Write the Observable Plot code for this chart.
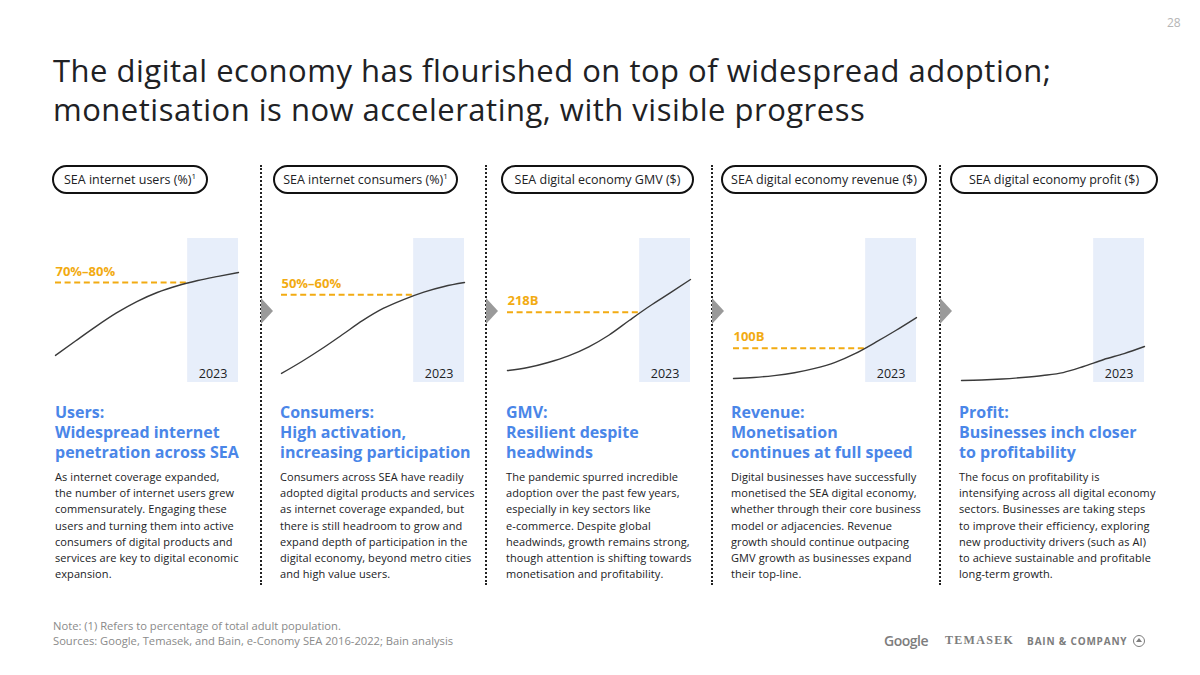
<!DOCTYPE html>
<html>
<head>
<meta charset="utf-8">
<script src="https://cdn.jsdelivr.net/npm/d3@7"></script>
<script src="https://cdn.jsdelivr.net/npm/@observablehq/plot@0.6"></script>
<style>
  html, body { margin:0; padding:0; background:#fff; }
  body { width:1200px; height:675px; position:relative; overflow:hidden; font-family: "Open Sans", Roboto, sans-serif; color:#202124; }
  .abs { position:absolute; }
  .title { left:53px; top:51px; font-size:31px; line-height:39px; color:#202124; white-space:nowrap; letter-spacing:0.5px; }
  .pill { position:absolute; top:165px; height:25px; border:2px solid #111; border-radius:15px; font-size:12.5px; line-height:25px; text-align:center; white-space:nowrap; color:#202124; }
  .pill sup { font-size:8px; vertical-align: 5px; line-height:0; }
  .divider { position:absolute; top:165px; height:420px; width:0; border-left:2.5px dotted #222; }
  .arrow { position:absolute; width:0; height:0; border-top:13px solid transparent; border-bottom:13px solid transparent; border-left:12px solid #9a9a9a; }
  .head { position:absolute; top:402px; font-size:16px; line-height:20px; font-weight:700; color:#4a86e8; white-space:nowrap; }
  .body { position:absolute; top:469px; font-size:11px; line-height:16.2px; letter-spacing:0.08px; color:#202124; white-space:nowrap; }
  .foot { position:absolute; left:53px; top:619px; font-size:11.2px; line-height:14.5px; color:#8a8a8a; white-space:nowrap; }
  .chart { position:absolute; top:238px; }
  .logos { position:absolute; left:884px; top:631px; display:flex; align-items:center; color:#7d7d7d; white-space:nowrap; }
</style>
</head>
<body>
<div class="abs" style="left:1167px; top:14px; font-size:12px; color:#b5b5b5;">28</div>
<div class="abs title">The digital economy has flourished on top of widespread adoption;<br>monetisation is now accelerating, with visible progress</div>
<div id="root"></div>
<div class="foot">Note: (1) Refers to percentage of total adult population.<br>Sources: Google, Temasek, and Bain, e-Conomy SEA 2016-2022; Bain analysis</div>
<div class="logos">
  <span style="font-size:14px; font-weight:600; letter-spacing:-0.5px;">Google</span>
  <span style="margin-left:17px; font-size:12px; font-family:'Liberation Serif',serif; font-weight:700; letter-spacing:1.3px;">TEMASEK</span>
  <span style="margin-left:13px; font-size:10px; font-weight:700; letter-spacing:0.8px;">BAIN &amp; COMPANY</span>
  <span style="margin-left:6px; width:10px; height:10px; border:1.5px solid #7d7d7d; border-radius:50%; display:inline-block; position:relative;">
    <span style="position:absolute; left:2px; top:2.5px; width:0; height:0; border-left:3px solid transparent; border-right:3px solid transparent; border-bottom:4px solid #7d7d7d;"></span>
  </span>
</div>
<script>
// ---- data (index 0–100 = bottom to top of each mini chart) ----
const panelKeys = ["users", "consumers", "gmv", "revenue", "profit"];
const pillLabels = ["SEA internet users (%)", "SEA internet consumers (%)", "SEA digital economy GMV ($)", "SEA digital economy revenue ($)", "SEA digital economy profit ($)"];
const pillNotes = ["1", "1", "", "", ""];
const years = [2016, 2017, 2018, 2019, 2020, 2021, 2022, 2023, 2024, 2025];
const usersValues     = [18.8, 29.0, 39.0, 48.3, 56.2, 62.5, 67.2, 70.8, 73.7, 76.4];
const consumersValues = [6.3, 14.6, 23.6, 33.3, 43.1, 51.4, 57.6, 62.8, 66.7, 69.4];
const gmvValues       = [8.3, 10.4, 13.9, 18.5, 24.8, 33.0, 43.2, 53.1, 62.2, 71.5];
const revenueValues   = [2.8, 3.5, 4.8, 6.8, 9.8, 14.0, 20.2, 28.0, 36.3, 45.1];
const profitValues    = [1.4, 1.7, 2.4, 3.5, 4.9, 6.9, 11.1, 16.0, 20.1, 25.0];
const refLevels = [69.4, 60.9, 48.8, 23.8, null];
const refLabels = ["70%–80%", "50%–60%", "218B", "100B", null];
const highlightLabel = "2023";
const highlightStart = 2022.5;
const highlightEnd = 2025;
const headings = [
  ["Users:", "Widespread internet", "penetration across SEA"],
  ["Consumers:", "High activation,", "increasing participation"],
  ["GMV:", "Resilient despite", "headwinds"],
  ["Revenue:", "Monetisation", "continues at full speed"],
  ["Profit:", "Businesses inch closer", "to profitability"]
];
const bodies = [
  ["As internet coverage expanded,", "the number of internet users grew", "commensurately. Engaging these", "users and turning them into active", "consumers of digital products and", "services are key to digital economic", "expansion."],
  ["Consumers across SEA have readily", "adopted digital products and services", "as internet coverage expanded, but", "there is still headroom to grow and", "expand depth of participation in the", "digital economy, beyond metro cities", "and high value users."],
  ["The pandemic spurred incredible", "adoption over the past few years,", "especially in key sectors like", "e-commerce. Despite global", "headwinds, growth remains strong,", "though attention is shifting towards", "monetisation and profitability."],
  ["Digital businesses have successfully", "monetised the SEA digital economy,", "whether through their core business", "model or adjacencies. Revenue", "growth should continue outpacing", "GMV growth as businesses expand", "their top-line."],
  ["The focus on profitability is", "intensifying across all digital economy", "sectors. Businesses are taking steps", "to improve their efficiency, exploring", "new productivity drivers (such as AI)", "to achieve sustainable and profitable", "long-term growth."]
];
const seriesValues = [usersValues, consumersValues, gmvValues, revenueValues, profitValues];

// ---- layout ----
const chartLefts = [55, 281, 507, 733, 961];
const chartWidth = 183, chartHeight = 144;
const textLefts = [55, 280, 506, 731, 959];
const pillLefts = [52, 273, 501, 721, 950];
const pillWidths = [152, 181, 189, 202, 204];
const dividerXs = [261, 486, 712, 940];
const root = document.getElementById("root");

dividerXs.forEach(x => {
  const d = document.createElement("div"); d.className = "divider"; d.style.left = (x - 1) + "px"; root.appendChild(d);
  const a = document.createElement("div"); a.className = "arrow"; a.style.left = x + "px"; a.style.top = "298px"; root.appendChild(a);
});

panelKeys.forEach((key, i) => {
  const pill = document.createElement("div");
  pill.className = "pill"; pill.style.left = pillLefts[i] + "px"; pill.style.width = pillWidths[i] + "px";
  pill.innerHTML = pillLabels[i] + (pillNotes[i] ? "<sup>" + pillNotes[i] + "</sup>" : "");
  root.appendChild(pill);

  const h = document.createElement("div"); h.className = "head"; h.style.left = textLefts[i] + "px";
  h.innerHTML = headings[i].join("<br>"); root.appendChild(h);
  const b = document.createElement("div"); b.className = "body"; b.style.left = textLefts[i] + "px";
  b.innerHTML = bodies[i].join("<br>"); root.appendChild(b);

  const data = years.map((y, j) => ({year: y, value: seriesValues[i][j]}));
  const marks = [
    Plot.rect([{x1: highlightStart, x2: highlightEnd, y1: 0, y2: 100}], {x1: "x1", x2: "x2", y1: "y1", y2: "y2", fill: "#e7eefa"}),
  ];
  if (refLevels[i] != null) {
    marks.push(Plot.ruleY([{v: refLevels[i]}], {y: "v", x1: years[0], x2: highlightStart, stroke: "#f2ab12", strokeWidth: 2, strokeDasharray: "6,3.6"}));
    marks.push(Plot.text([{v: refLevels[i], t: refLabels[i]}], {x: years[0], y: "v", text: "t", dy: -11, textAnchor: "start", fill: "#f2ab12", fontWeight: 700, fontSize: 13, style: "letter-spacing:0.4px"}));
  }
  marks.push(Plot.line(data, {x: "year", y: "value", stroke: "#3a3a3a", strokeWidth: 1.4, curve: "monotone-x"}));
  marks.push(Plot.text([{x: (highlightStart + highlightEnd) / 2, t: highlightLabel}], {x: "x", y: 0, text: "t", dy: -9, fill: "#202124", fontSize: 12.5}));

  const svg = Plot.plot({
    width: chartWidth, height: chartHeight,
    marginTop: 0, marginBottom: 0, marginLeft: 0, marginRight: 0,
    x: {domain: [years[0], years[years.length - 1]], axis: null},
    y: {domain: [0, 100], axis: null},
    style: {overflow: "visible", background: "transparent", fontFamily: "'Open Sans', sans-serif"},
    marks
  });
  const wrap = document.createElement("div"); wrap.className = "chart"; wrap.style.left = chartLefts[i] + "px";
  wrap.appendChild(svg); root.appendChild(wrap);
});
</script>
</body>
</html>
